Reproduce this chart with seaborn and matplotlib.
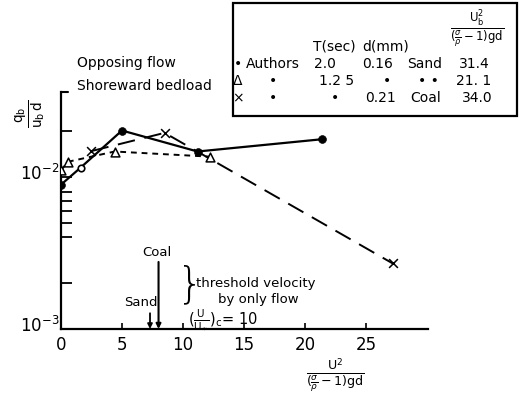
import matplotlib
matplotlib.use("Agg")
import matplotlib.pyplot as plt
import matplotlib.transforms as mtransforms
import seaborn as sns
import pandas as pd
from matplotlib.patches import Rectangle

# Shoreward bedload under opposing flow vs. U^2/((sigma/rho-1)gd)
authors_x = [0.0, 1.6, 5.0, 11.2, 21.4]
authors_y = [0.0089, 0.0115, 0.0202, 0.0147, 0.0177]
authors_open = [False, True, False, False, False]

tri_x = [0.0, 0.6, 4.4, 12.2]
tri_y = [0.0111, 0.0126, 0.0147, 0.0136]

cross_x = [2.5, 8.5, 27.2]
cross_y = [0.0148, 0.0195, 0.0027]

# threshold positions (U/U*)c = 10
sand_x, sand_top = 7.3, 0.00127
coal_x, coal_top = 8.0, 0.00276

x_ticks = [0, 5, 10, 15, 20, 25]

# legend table: (text, x centre in px) per row
legend_rows = [
    [("\u2022", 238), ("Authors", 273), ("2.0", 325), ("0.16", 378), ("Sand", 425), ("31.4", 474)],
    [("\u0394", 238), ("\u2022", 273), ("1.2 5", 337), ("\u2022", 387), ("\u2022 \u2022", 428), ("21. 1", 474)],
    [("\u00d7", 238), ("\u2022", 273), ("\u2022", 335), ("0.21", 380), ("Coal", 426), ("34.0", 477)],
]
row_y = [64, 81, 98]

W, H = 522, 398
sns.set_theme(style="ticks")
plt.rcParams["font.family"] = ["DejaVu Sans"]
plt.rcParams["mathtext.fontset"] = "dejavusans"
plt.rcParams["text.color"] = "black"
plt.rcParams["axes.labelcolor"] = "black"
plt.rcParams["xtick.color"] = "black"
plt.rcParams["ytick.color"] = "black"

fig = plt.figure(figsize=(W / 100, H / 100), dpi=100)
fx = lambda px: px / W
fy = lambda py: 1 - py / H

ax = fig.add_axes([fx(61), fy(329), fx(428) - fx(61), fy(92) - fy(329)])
ax.set_yscale("log")
ax.set_xlim(0, 30.1)
ax.set_ylim(1e-3, 0.0362)

auth = pd.DataFrame({"x": authors_x, "y": authors_y, "open": authors_open})
tri = pd.DataFrame({"x": tri_x, "y": tri_y})
crs = pd.DataFrame({"x": cross_x, "y": cross_y})

sns.lineplot(data=auth, x="x", y="y", ax=ax, color="black", lw=1.6,
             sort=False, estimator=None)
sns.scatterplot(data=auth[~auth["open"]], x="x", y="y", ax=ax, color="black",
                s=32, marker="o", edgecolor="black", zorder=5)
sns.scatterplot(data=auth[auth["open"]], x="x", y="y", ax=ax, facecolor="white",
                s=22, marker="o", edgecolor="black", linewidth=1.2, zorder=5)

sns.lineplot(data=tri, x="x", y="y", ax=ax, color="black", lw=1.4,
             sort=False, estimator=None, linestyle=(0, (3, 2.5)))
sns.scatterplot(data=tri, x="x", y="y", ax=ax, marker="^", s=40,
                facecolor="white", edgecolor="black", linewidth=1.1, zorder=5)

sns.lineplot(data=crs, x="x", y="y", ax=ax, color="black", lw=1.4,
             sort=False, estimator=None, linestyle=(0, (9, 5)))
sns.scatterplot(data=crs, x="x", y="y", ax=ax, marker="x", s=40,
                color="black", linewidth=1.1, zorder=5)

# threshold markers on the x axis
ax.annotate("", xy=(sand_x, 1e-3), xytext=(sand_x, sand_top),
            arrowprops=dict(arrowstyle="-|>", color="black", lw=1.3,
                            mutation_scale=7, shrinkA=0, shrinkB=0))
ax.annotate("", xy=(coal_x, 1e-3), xytext=(coal_x, coal_top),
            arrowprops=dict(arrowstyle="-|>", color="black", lw=1.5,
                            mutation_scale=7, shrinkA=0, shrinkB=0))

for s in ["top", "right"]:
    ax.spines[s].set_visible(False)
for s in ["left", "bottom"]:
    ax.spines[s].set_linewidth(1.6)
    ax.spines[s].set_color("black")

ax.set_xticks(x_ticks)
ax.set_xticklabels([str(t) for t in x_ticks], fontsize=12)
ax.set_yticks([1e-3, 1e-2])
ax.set_yticklabels([r"$10^{-3}$", r"$10^{-2}$"], fontsize=12)
ax.set_yticks([2e-3, 4e-3, 5e-3, 6e-3, 7e-3, 8e-3, 2e-2], minor=True)
ax.yaxis.set_minor_formatter(matplotlib.ticker.NullFormatter())
ax.tick_params(axis="x", direction="in", length=4, width=1.2, pad=5)
ax.tick_params(axis="y", which="major", direction="in", length=8, width=1.3, pad=1)
ax.tick_params(axis="y", which="minor", direction="in", length=8, width=1.3)
ax.set_xlabel("")
ax.set_ylabel("")
# lift the decade labels slightly above their ticks
lift = mtransforms.ScaledTranslation(0, 5 / 100, fig.dpi_scale_trans)
for lab in ax.get_yticklabels():
    lab.set_transform(lab.get_transform() + lift)

# top stub of the y axis
fig.add_artist(plt.Line2D([fx(61), fx(68)], [fy(92), fy(92)], color="black", lw=1.5))

# axis labels
fig.text(fx(30), fy(114), r"$\frac{\mathrm{q_b}}{\mathrm{u_b\,d}}$", rotation=90,
         fontsize=14, ha="center", va="center")
fig.text(fx(335), fy(375), r"$\frac{\mathrm{U}^2}{(\frac{\sigma}{\rho}-1)\mathrm{gd}}$",
         fontsize=13, ha="center", va="center")

fig.text(fx(77), fy(63), "Opposing flow", fontsize=10, ha="left", va="center")
fig.text(fx(77), fy(86), "Shoreward bedload", fontsize=10, ha="left", va="center")

fig.text(fx(142), fy(253), "Coal", fontsize=9.5, ha="left", va="center")
fig.text(fx(124), fy(302), "Sand", fontsize=9.5, ha="left", va="center")
fig.text(fx(190), fy(285), "}", fontsize=30, ha="center", va="center",
         fontweight="ultralight")
fig.text(fx(256), fy(283), "threshold velocity", fontsize=9.5, ha="center", va="center")
fig.text(fx(258), fy(299), "by only flow", fontsize=9.5, ha="center", va="center")
fig.text(fx(188), fy(319), r"$(\frac{\mathrm{U}}{\mathrm{U_*}})_\mathrm{c}$= 10",
         fontsize=10.5, ha="left", va="center")

# legend table
fig.add_artist(Rectangle((fx(233), fy(116)), fx(517) - fx(233), fy(3) - fy(116),
                         transform=fig.transFigure, fill=False, lw=1.6,
                         edgecolor="black"))
fig.text(fx(477), fy(29), r"$\frac{\mathrm{U_b^2}}{(\frac{\sigma}{\rho}-1)\mathrm{gd}}$",
         fontsize=12, ha="center", va="center")
fig.text(fx(334), fy(47), "T(sec)", fontsize=10, ha="center", va="center")
fig.text(fx(386), fy(47), "d(mm)", fontsize=10, ha="center", va="center")
for yy, row in zip(row_y, legend_rows):
    for txt, xc in row:
        fig.text(fx(xc), fy(yy), txt, fontsize=10, ha="center", va="center")

fig.savefig("out.png", dpi=100, facecolor="white")
